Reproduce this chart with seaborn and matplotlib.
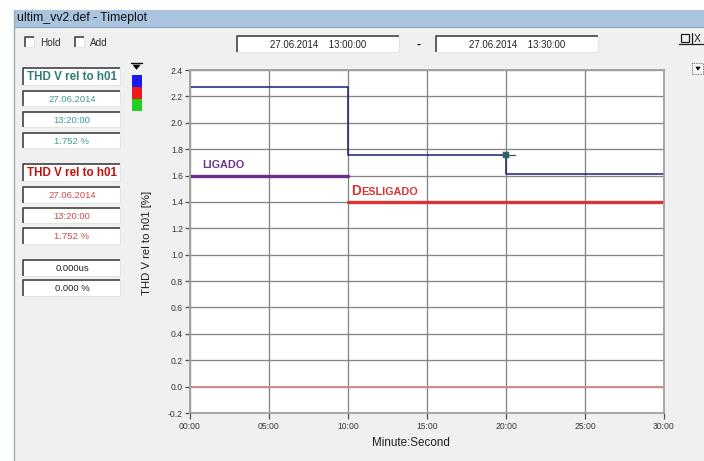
import numpy as np
import pandas as pd
import matplotlib
matplotlib.use("Agg")
import matplotlib.pyplot as plt
import seaborn as sns
from matplotlib.patches import Rectangle, Polygon

# ---------------- data ----------------
step_minutes = [0, 10, 20, 30]
thd_values = [2.27, 1.752, 1.61, 1.61]
ligado_minutes = [0, 10]
ligado_values = [1.60, 1.60]
desligado_minutes = [10, 30]
desligado_values = [1.40, 1.40]
zero_minutes = [0, 30]
zero_values = [0.0, 0.0]
cursor_minute = [20]
cursor_value = [1.752]
x_ticks = [0, 5, 10, 15, 20, 25, 30]
x_tick_labels = ["00:00", "05:00", "10:00", "15:00", "20:00", "25:00", "30:00"]
y_ticks = [-0.2, 0.0, 0.2, 0.4, 0.6, 0.8, 1.0, 1.2, 1.4, 1.6, 1.8, 2.0, 2.2, 2.4]
y_tick_labels = ["-0.2", "0.0", "0.2", "0.4", "0.6", "0.8", "1.0", "1.2", "1.4",
                 "1.6", "1.8", "2.0", "2.2", "2.4"]

sns.set_style("white")
plt.rcParams['font.family'] = ['Liberation Sans', 'DejaVu Sans']

W, H = 704, 461
fig = plt.figure(figsize=(W / 100, H / 100), dpi=100, facecolor="white")

# ---------------- window chrome (pixel coordinates) ----------------
ui = fig.add_axes([0, 0, 1, 1], zorder=0)
ui.set_xlim(0, W)
ui.set_ylim(H, 0)
ui.axis("off")

ui.add_patch(Rectangle((14, 27), W - 14, H - 27, fc="#f0f0f0", ec="none"))
ui.add_patch(Rectangle((14, 10), W - 14, 17, fc="#aac4df", ec="none"))
ui.plot([14, W], [27, 27], color="#8aa4c0", lw=0.8)
ui.plot([14, 14], [10, H], color="#9aaabb", lw=1.0)
ui.text(17, 18.5, "ultim_vv2.def - Timeplot", fontsize=8.8, color="#101010",
        va="center", ha="left")


def sbox(x0, y0, x1, y1):
    ui.add_patch(Rectangle((x0, y0), x1 - x0, y1 - y0, fc="white", ec="none"))
    ui.plot([x0, x0, x1], [y1, y0, y0], color="#505050", lw=1.3, solid_capstyle="butt")
    ui.plot([x1, x1, x0], [y0, y1, y1], color="#e4e4e4", lw=0.8)


# checkboxes
for bx, lab in [(25, "Hold"), (75, "Add")]:
    sbox(bx, 37, bx + 9, 47)
    ui.text(bx + 15, 42.5, lab, fontsize=7.2, color="#303030", va="center")

# date range boxes
sbox(237, 36, 399, 52)
ui.text(318, 44.5, "27.06.2014    13:00:00", fontsize=6.9, color="#202020",
        ha="center", va="center")
ui.text(419, 45, "-", fontsize=9, color="#202020", ha="center", va="center",
        fontweight="bold")
sbox(436, 36, 598, 52)
ui.text(517, 44.5, "27.06.2014    13:30:00", fontsize=6.9, color="#202020",
        ha="center", va="center")

# window buttons top right
ui.add_patch(Rectangle((681, 34), 8, 8, fc="none", ec="#202020", lw=0.9))
ui.plot([692, 692], [33, 44], color="#202020", lw=0.9)
ui.plot([679, W], [44, 44], color="#202020", lw=0.9)
ui.text(694, 39, "X", fontsize=7.5, color="#202020", va="center", ha="left")

# dropdown on the right
ui.add_patch(Rectangle((692, 63), 11, 11, fc="#f4f4f4", ec="#606060", lw=0.6,
                       ls=(0, (1, 1))))
ui.add_patch(Polygon([[694, 66], [702, 66], [698, 72]], closed=True, fc="black"))

# colour strip
ui.add_patch(Polygon([[131, 64], [142, 64], [136.5, 71]], closed=True, fc="black"))
ui.plot([131, 142], [63, 63], color="black", lw=1)
ui.add_patch(Rectangle((132, 75), 10, 12, fc="#1a1aee", ec="none"))
ui.add_patch(Rectangle((132, 87), 10, 12, fc="#ee1a1a", ec="none"))
ui.add_patch(Rectangle((132, 99), 10, 12, fc="#1fd11f", ec="none"))

# left info boxes
teal_dark = "#2f7d72"
teal = "#3e9a93"
red_dark = "#c01010"
red = "#d04848"

sbox(23, 68, 120, 85)
ui.text(27, 77, "THD V rel to h01", fontsize=8.4, fontweight="bold",
        color=teal_dark, va="center", ha="left")
for (y0, y1), s in zip([(91, 106), (112, 127), (133, 148)],
                       ["27.06.2014", "13:20:00", "1.752 %"]):
    sbox(23, y0, 120, y1)
    ui.text(72, (y0 + y1) / 2 + 0.5, s, fontsize=6.8, color=teal,
            ha="center", va="center")

sbox(23, 164, 120, 181)
ui.text(27, 173, "THD V rel to h01", fontsize=8.4, fontweight="bold",
        color=red_dark, va="center", ha="left")
for (y0, y1), s in zip([(187, 203), (208, 223), (228, 244)],
                       ["27.06.2014", "13:20:00", "1.752 %"]):
    sbox(23, y0, 120, y1)
    ui.text(72, (y0 + y1) / 2 + 0.5, s, fontsize=6.8, color=red,
            ha="center", va="center")

for (y0, y1), s in zip([(260, 276), (280, 296)], ["0.000us", "0.000 %"]):
    sbox(23, y0, 120, y1)
    ui.text(72, (y0 + y1) / 2 + 0.5, s, fontsize=6.8, color="#202020",
            ha="center", va="center")

# ---------------- plot ----------------
ax_left, ax_right, ax_top, ax_bottom = 190, 664, 70, 413
ax = fig.add_axes([ax_left / W, (H - ax_bottom) / H,
                   (ax_right - ax_left) / W, (ax_bottom - ax_top) / H], zorder=2)
ax.set_facecolor("white")

sns.lineplot(x=zero_minutes, y=zero_values, color="#d88585", lw=1.3,
             estimator=None, ax=ax)
sns.lineplot(x=ligado_minutes, y=ligado_values, color="#6c2c8c", lw=2.4,
             estimator=None, ax=ax)
sns.lineplot(x=desligado_minutes, y=desligado_values, color="#d83434", lw=2.4,
             estimator=None, ax=ax)
sns.lineplot(x=step_minutes, y=thd_values, color="#1e1e7e", lw=1.1,
             drawstyle="steps-post", estimator=None, ax=ax)
# cursor
ax.plot([cursor_minute[0] - 0.4, cursor_minute[0] + 0.55], [cursor_value[0]] * 2,
        color="#405050", lw=0.9, zorder=4)
sns.scatterplot(x=cursor_minute, y=cursor_value, marker="s", s=16,
                color="#2f6464", edgecolor="#2f6464", ax=ax, zorder=5)

ax.set_xlim(0, 30)
ax.set_ylim(-0.2, 2.4)
ax.set_xticks(x_ticks)
ax.set_xticklabels(x_tick_labels)
ax.set_yticks(y_ticks)
ax.set_yticklabels(y_tick_labels)
ax.grid(True, color="#858585", lw=0.95)
ax.set_axisbelow(True)
for sp in ax.spines.values():
    sp.set_color("#a0a0a0")
    sp.set_linewidth(1.3)
ax.tick_params(axis="y", direction="out", length=3.5, width=0.9, color="#505050",
               labelsize=6.2, labelcolor="#383838", pad=1.5, left=True)
ax.tick_params(axis="x", direction="out", length=4, width=0.9, color="#505050",
               labelsize=6.2, labelcolor="#383838", pad=2.5, bottom=True)

ax.set_xlabel("Minute:Second", fontsize=8.4, color="#202020")
ax.xaxis.set_label_coords((411 - ax_left) / (ax_right - ax_left),
                          (ax_bottom - 437) / (ax_bottom - ax_top))
ax.set_ylabel("THD V rel to h01 [%]", fontsize=8.2, color="#202020")
ax.yaxis.set_label_coords((152 - ax_left) / (ax_right - ax_left),
                          (ax_bottom - 243) / (ax_bottom - ax_top))

# annotations
ax.text(0.75, 1.655, "LIGADO", fontsize=7.8, fontweight="bold", color="#6c3494",
        ha="left", va="baseline")
ax.text(10.2, 1.455, "D", fontsize=9.8, fontweight="bold", color="#d83434",
        ha="left", va="baseline")
ax.text(10.85, 1.455, "ESLIGADO", fontsize=7.8, fontweight="bold", color="#d83434",
        ha="left", va="baseline")

fig.savefig("out.png", dpi=100, facecolor="white")
